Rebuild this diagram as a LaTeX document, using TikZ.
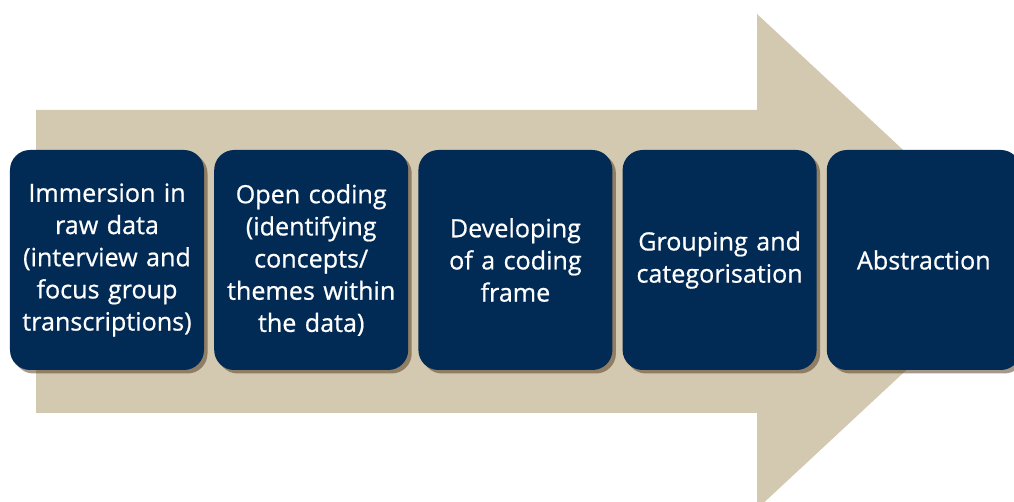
\documentclass[tikz,border=0pt]{standalone}
\usepackage{fontspec}
\setmainfont{Open Sans}[FakeBold=0.7]
\usepackage{tikz}
\usetikzlibrary{positioning,shadows}
\definecolor{tan}{HTML}{D3C8B0}
\definecolor{navy}{HTML}{012A55}

\begin{document}
\begin{tikzpicture}[
    stage/.style={rectangle, rounded corners=0.4cm, fill=navy, text=white,
        minimum width=3.88cm, minimum height=4.4cm, text width=3.85cm,
        align=center, inner sep=0pt,
        font=\fontsize{14.3}{18.3}\selectfont,
        drop shadow={shadow xshift=0.07cm, shadow yshift=-0.07cm,
            fill=black!60!brown, opacity=0.5}},
    node distance=0.19cm]
        % Rahmen
        \useasboundingbox (0,0) rectangle (20.28,10.04);
        \clip (0,0) rectangle (20.28,10.04);

        % grosser Pfeil im Hintergrund
        \fill[tan] (0.72,1.78) -- (15.14,1.78) -- (15.14,-0.14) -- (20.46,4.81)
            -- (15.14,9.76) -- (15.14,7.84) -- (0.72,7.84) -- cycle;

        % Schritte
        \node[stage] (immersion) at (2.14,4.84) {Immersion in\\raw data\\(interview and\\focus group\\transcriptions)};
        \node[stage, right=of immersion] (opencoding) {Open coding\\(identifying\\concepts/\\themes within\\the data)};
        \node[stage, right=of opencoding] (frame) {Developing\\of a coding\\frame};
        \node[stage, right=of frame] (grouping) {Grouping and\\categorisation};
        \node[stage, right=of grouping] (abstraction) {Abstraction};
    \end{tikzpicture}
\end{document}
